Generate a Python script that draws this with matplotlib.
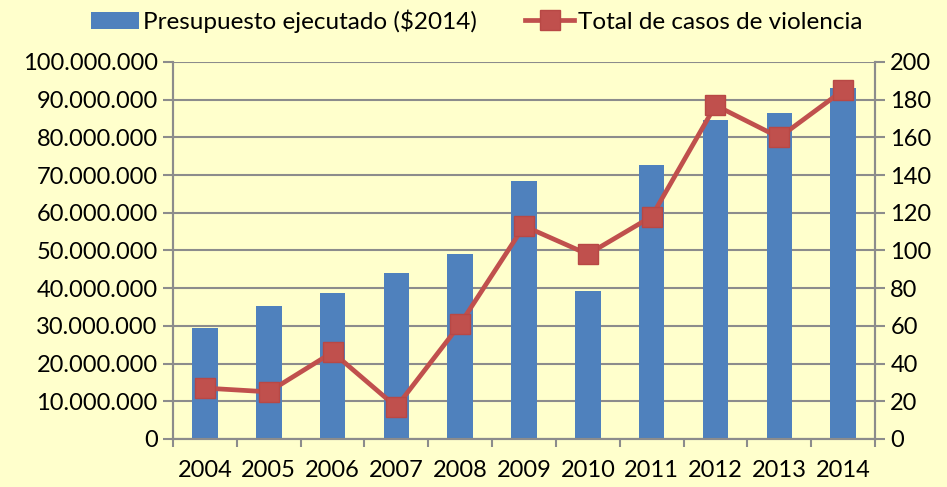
import numpy as np
import matplotlib.pyplot as plt
from matplotlib.ticker import FuncFormatter, FixedLocator

years = ['2004', '2005', '2006', '2007', '2008', '2009', '2010', '2011', '2012', '2013', '2014']
presupuesto = [29.5e6, 35.3e6, 38.6e6, 44.1e6, 49.0e6, 68.3e6, 39.3e6, 72.7e6, 84.5e6, 86.5e6, 93.1e6]
casos = [27, 25, 46, 17, 61, 113, 98, 118, 177, 160, 185]

bg = '#FFFFCC'
grid_c = '#8C8C8C'
plt.rcParams['font.family'] = ['Lato', 'DejaVu Sans']

fig = plt.figure(figsize=(9.47, 4.87), dpi=100, facecolor=bg)
ax = fig.add_axes([0.1827, 0.0986, 0.7413, 0.7741], facecolor=bg)
ax2 = ax.twinx()

x = np.arange(len(years))
bars = ax.bar(x, presupuesto, width=0.4, color='#4F81BD', zorder=2, label='Presupuesto ejecutado ($2014)')
line, = ax2.plot(x, casos, color='#C0504D', lw=3.4, marker='s', markersize=14,
                 markerfacecolor='#C0504D', markeredgecolor='#B84845', zorder=3,
                 label='Total de casos de violencia')

ax.set_xlim(-0.5, len(years) - 0.5)
ax.set_ylim(0, 100e6)
ax2.set_ylim(0, 200)
ax.set_yticks(np.arange(0, 100e6 + 1, 10e6))
ax2.set_yticks(np.arange(0, 201, 20))
ax.yaxis.set_major_formatter(FuncFormatter(lambda v, p: f'{int(v):,}'.replace(',', '.')))

ax.set_xticks(x)
ax.set_xticklabels(years)
ax.xaxis.set_minor_locator(FixedLocator(np.arange(-0.5, len(years), 1)))
ax.tick_params(axis='x', which='major', length=0, labelsize=17, pad=15)
ax.tick_params(axis='x', which='minor', length=6, width=1.5, color=grid_c)
ax.tick_params(axis='y', length=7, width=1.5, color=grid_c, labelsize=17, pad=4)
ax2.tick_params(axis='y', length=7, width=1.5, color=grid_c, labelsize=17, pad=4)

ax.grid(axis='y', color=grid_c, lw=1.5, zorder=0)
ax.set_axisbelow(True)
for a in (ax, ax2):
    a.spines['top'].set_visible(False)
    for s in ('left', 'right', 'bottom'):
        a.spines[s].set_color(grid_c)
        a.spines[s].set_linewidth(1.5)

ax.set_zorder(1)
ax2.set_zorder(2)
ax2.patch.set_visible(False)

fig.legend(handles=[bars, line], loc='center', bbox_to_anchor=(0.503, 0.957), ncol=2,
           frameon=False, fontsize=17.5, handlelength=2.0, handletextpad=0.15, columnspacing=2.0)

fig.savefig('out.png', dpi=100, facecolor=bg)
